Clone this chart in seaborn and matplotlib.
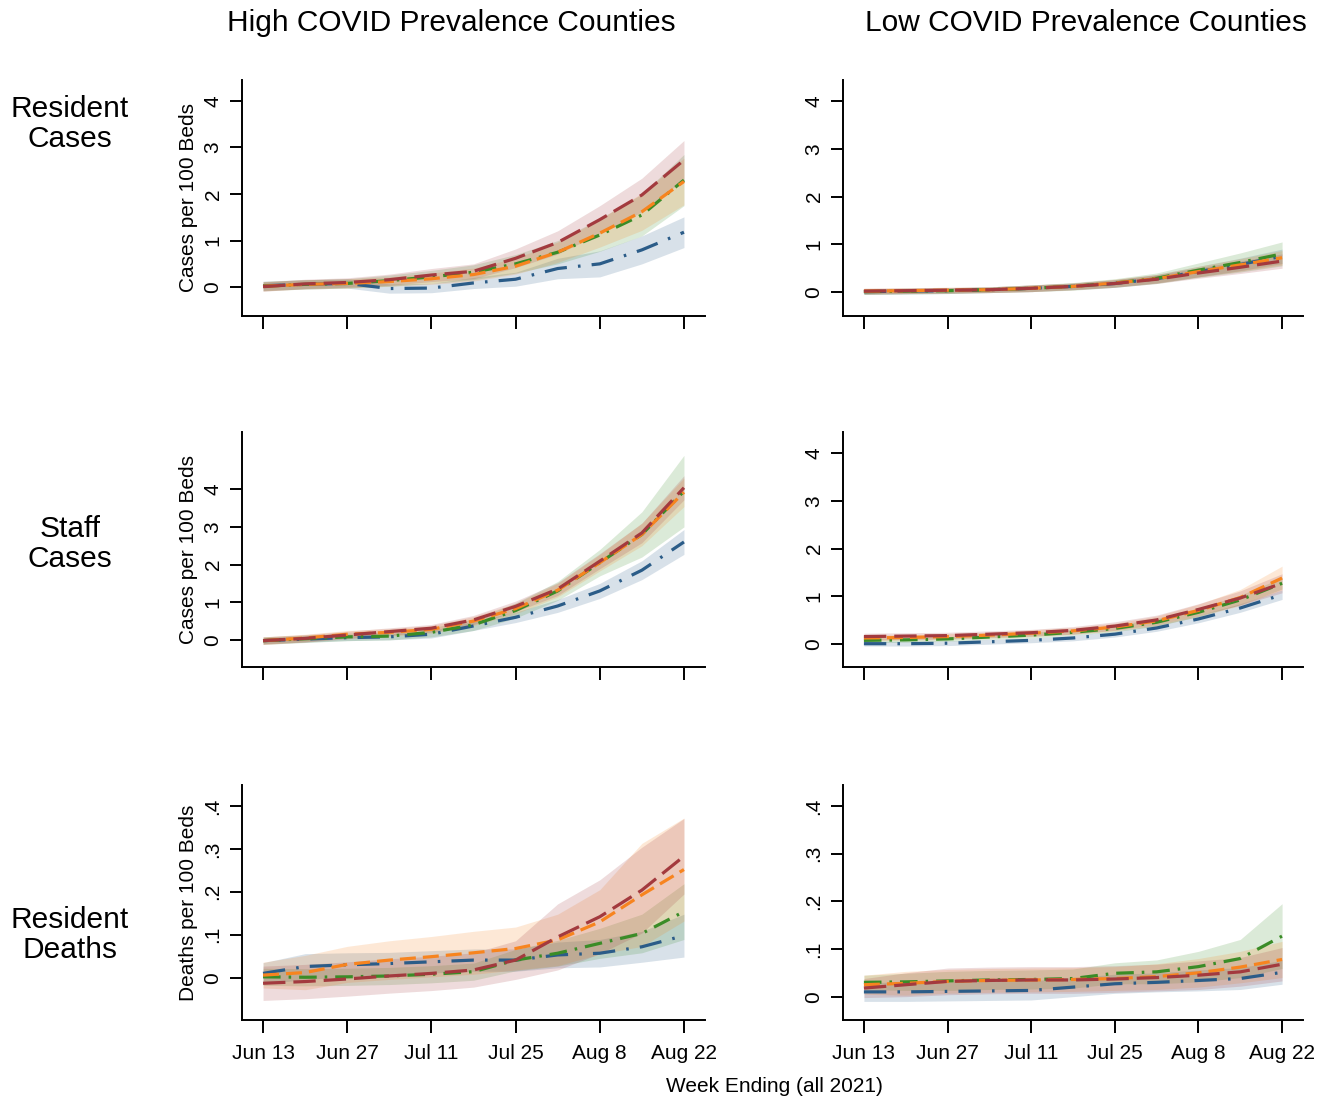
import matplotlib
matplotlib.use("Agg")
import matplotlib.pyplot as plt
import seaborn as sns
import pandas as pd

# weekly x values (week ending, 2021)
weeks = ["2021-06-13", "2021-06-20", "2021-06-27", "2021-07-04", "2021-07-11", "2021-07-18",
         "2021-07-25", "2021-08-01", "2021-08-08", "2021-08-15", "2021-08-22"]
tick_weeks = ["2021-06-13", "2021-06-27", "2021-07-11", "2021-07-25", "2021-08-08", "2021-08-22"]
tick_labels = ["Jun 13", "Jun 27", "Jul 11", "Jul 25", "Aug 8", "Aug 22"]
groups = ["Group 1", "Group 2", "Group 3", "Group 4"]

# --- High prevalence, resident cases
hi_res_g1 = [0.03, 0.06, 0.08, -0.03, -0.02, 0.09, 0.17, 0.40, 0.50, 0.80, 1.18]
hi_res_g2 = [0.02, 0.06, 0.08, 0.14, 0.22, 0.32, 0.50, 0.75, 1.12, 1.55, 2.30]
hi_res_g3 = [0.02, 0.06, 0.08, 0.12, 0.18, 0.27, 0.45, 0.75, 1.16, 1.62, 2.27]
hi_res_g4 = [0.01, 0.07, 0.10, 0.16, 0.26, 0.34, 0.62, 0.96, 1.45, 1.98, 2.73]
hi_res_g1_ci = [0.10, 0.10, 0.10, 0.10, 0.10, 0.12, 0.15, 0.22, 0.28, 0.30, 0.33]
hi_res_g2_ci = [0.10, 0.10, 0.10, 0.12, 0.14, 0.16, 0.20, 0.25, 0.35, 0.45, 0.55]
hi_res_g3_ci = [0.10, 0.10, 0.10, 0.10, 0.12, 0.14, 0.17, 0.22, 0.30, 0.40, 0.50]
hi_res_g4_ci = [0.10, 0.10, 0.10, 0.12, 0.14, 0.16, 0.20, 0.25, 0.30, 0.36, 0.42]

# --- Low prevalence, resident cases
lo_res_g1 = [0.01, 0.02, 0.03, 0.05, 0.08, 0.12, 0.18, 0.28, 0.43, 0.58, 0.75]
lo_res_g2 = [0.01, 0.02, 0.03, 0.05, 0.08, 0.12, 0.19, 0.29, 0.46, 0.62, 0.80]
lo_res_g3 = [0.02, 0.03, 0.04, 0.05, 0.08, 0.12, 0.19, 0.28, 0.43, 0.57, 0.72]
lo_res_g4 = [0.02, 0.03, 0.04, 0.05, 0.08, 0.12, 0.18, 0.27, 0.40, 0.52, 0.65]
lo_res_g1_ci = [0.06, 0.06, 0.06, 0.06, 0.07, 0.07, 0.08, 0.09, 0.11, 0.13, 0.15]
lo_res_g2_ci = [0.06, 0.06, 0.06, 0.06, 0.07, 0.08, 0.09, 0.11, 0.15, 0.20, 0.25]
lo_res_g3_ci = [0.06, 0.06, 0.06, 0.06, 0.07, 0.07, 0.08, 0.09, 0.11, 0.13, 0.15]
lo_res_g4_ci = [0.06, 0.06, 0.06, 0.06, 0.07, 0.07, 0.08, 0.09, 0.11, 0.13, 0.15]

# --- High prevalence, staff cases
hi_staff_g1 = [-0.02, 0.02, 0.06, 0.08, 0.15, 0.37, 0.60, 0.90, 1.30, 1.85, 2.60]
hi_staff_g2 = [-0.02, 0.03, 0.08, 0.10, 0.20, 0.40, 0.78, 1.30, 2.05, 2.80, 3.95]
hi_staff_g3 = [-0.02, 0.05, 0.15, 0.20, 0.28, 0.50, 0.83, 1.32, 2.05, 2.80, 3.92]
hi_staff_g4 = [-0.02, 0.04, 0.13, 0.22, 0.31, 0.53, 0.89, 1.35, 2.09, 2.84, 4.04]
hi_staff_g1_ci = [0.08, 0.08, 0.08, 0.08, 0.10, 0.12, 0.14, 0.17, 0.20, 0.25, 0.33]
hi_staff_g2_ci = [0.10, 0.10, 0.10, 0.10, 0.12, 0.15, 0.20, 0.25, 0.35, 0.60, 0.95]
hi_staff_g3_ci = [0.10, 0.10, 0.10, 0.10, 0.10, 0.12, 0.14, 0.18, 0.22, 0.30, 0.38]
hi_staff_g4_ci = [0.10, 0.10, 0.10, 0.10, 0.10, 0.12, 0.14, 0.17, 0.20, 0.26, 0.32]

# --- Low prevalence, staff cases
lo_staff_g1 = [0.00, 0.00, 0.01, 0.04, 0.07, 0.12, 0.20, 0.33, 0.52, 0.75, 1.03]
lo_staff_g2 = [0.07, 0.08, 0.10, 0.14, 0.18, 0.24, 0.32, 0.45, 0.66, 0.92, 1.27]
lo_staff_g3 = [0.12, 0.13, 0.15, 0.18, 0.22, 0.27, 0.35, 0.48, 0.70, 0.97, 1.38]
lo_staff_g4 = [0.15, 0.16, 0.17, 0.20, 0.23, 0.28, 0.37, 0.50, 0.72, 0.96, 1.27]
lo_staff_g1_ci = [0.05, 0.05, 0.05, 0.05, 0.05, 0.06, 0.06, 0.07, 0.08, 0.09, 0.10]
lo_staff_g2_ci = [0.05, 0.05, 0.05, 0.05, 0.06, 0.06, 0.07, 0.08, 0.09, 0.10, 0.12]
lo_staff_g3_ci = [0.06, 0.06, 0.06, 0.06, 0.07, 0.07, 0.08, 0.10, 0.13, 0.17, 0.25]
lo_staff_g4_ci = [0.07, 0.07, 0.07, 0.07, 0.07, 0.08, 0.09, 0.10, 0.12, 0.15, 0.20]

# --- High prevalence, resident deaths
hi_death_g1 = [0.010, 0.026, 0.030, 0.033, 0.037, 0.041, 0.041, 0.053, 0.057, 0.072, 0.098]
hi_death_g2 = [0.002, 0.001, 0.002, 0.004, 0.008, 0.014, 0.041, 0.057, 0.080, 0.103, 0.154]
hi_death_g3 = [0.006, 0.012, 0.031, 0.041, 0.049, 0.058, 0.068, 0.088, 0.130, 0.193, 0.252]
hi_death_g4 = [-0.013, -0.009, -0.003, 0.004, 0.010, 0.018, 0.041, 0.095, 0.142, 0.204, 0.283]
hi_death_g1_ci = [0.025, 0.030, 0.028, 0.026, 0.026, 0.026, 0.026, 0.030, 0.032, 0.036, 0.050]
hi_death_g2_ci = [0.020, 0.020, 0.020, 0.020, 0.020, 0.020, 0.025, 0.030, 0.035, 0.045, 0.065]
hi_death_g3_ci = [0.030, 0.040, 0.042, 0.045, 0.047, 0.050, 0.050, 0.060, 0.075, 0.120, 0.120]
hi_death_g4_ci = [0.040, 0.040, 0.040, 0.040, 0.040, 0.040, 0.045, 0.077, 0.086, 0.100, 0.088]

# --- Low prevalence, resident deaths
lo_death_g1 = [0.010, 0.010, 0.011, 0.012, 0.013, 0.020, 0.027, 0.030, 0.034, 0.038, 0.051]
lo_death_g2 = [0.030, 0.031, 0.033, 0.035, 0.036, 0.038, 0.049, 0.052, 0.063, 0.080, 0.127]
lo_death_g3 = [0.025, 0.028, 0.032, 0.034, 0.035, 0.036, 0.038, 0.042, 0.050, 0.062, 0.078]
lo_death_g4 = [0.018, 0.025, 0.032, 0.034, 0.035, 0.035, 0.037, 0.040, 0.045, 0.052, 0.068]
lo_death_g1_ci = [0.020, 0.020, 0.020, 0.020, 0.020, 0.020, 0.020, 0.020, 0.022, 0.023, 0.025]
lo_death_g2_ci = [0.015, 0.018, 0.020, 0.020, 0.020, 0.020, 0.022, 0.025, 0.032, 0.040, 0.068]
lo_death_g3_ci = [0.020, 0.025, 0.025, 0.025, 0.025, 0.025, 0.025, 0.027, 0.030, 0.033, 0.038]
lo_death_g4_ci = [0.020, 0.025, 0.028, 0.028, 0.028, 0.028, 0.028, 0.028, 0.030, 0.030, 0.035]

colors = ["#2b5c88", "#3a8c27", "#f7841f", "#a33a3e"]
dash_styles = [(0, (7, 3.5, 0.8, 3.5)), (0, (5.5, 2.5, 0.8, 2.5)), (0, (5, 2.2)), (0, (7, 2.5))]

sns.set_theme(style="ticks")
plt.rcParams["font.family"] = ["Liberation Sans", "DejaVu Sans"]
plt.rcParams.update({"text.color": "black", "axes.labelcolor": "black",
                     "xtick.color": "black", "ytick.color": "black"})

fig = plt.figure(figsize=(13.3, 11.01), dpi=100)
W, H = 1330, 1101

def px_axes(left, right, top, bottom):
    return fig.add_axes([left / W, 1 - bottom / H, (right - left) / W, (bottom - top) / H])

panels = [
    # means, cis, axes box (px), ylim, yticks, ticklabels, ylabel, xticklabels?
    ([hi_res_g1, hi_res_g2, hi_res_g3, hi_res_g4],
     [hi_res_g1_ci, hi_res_g2_ci, hi_res_g3_ci, hi_res_g4_ci],
     (242, 705, 80, 316), (-0.62, 4.45), [0, 1, 2, 3, 4], None, "Cases per 100 Beds", False),
    ([lo_res_g1, lo_res_g2, lo_res_g3, lo_res_g4],
     [lo_res_g1_ci, lo_res_g2_ci, lo_res_g3_ci, lo_res_g4_ci],
     (843, 1303, 80, 316), (-0.5, 4.44), [0, 1, 2, 3, 4], None, None, False),
    ([hi_staff_g1, hi_staff_g2, hi_staff_g3, hi_staff_g4],
     [hi_staff_g1_ci, hi_staff_g2_ci, hi_staff_g3_ci, hi_staff_g4_ci],
     (242, 705, 432, 667), (-0.72, 5.52), [0, 1, 2, 3, 4], None, "Cases per 100 Beds", False),
    ([lo_staff_g1, lo_staff_g2, lo_staff_g3, lo_staff_g4],
     [lo_staff_g1_ci, lo_staff_g2_ci, lo_staff_g3_ci, lo_staff_g4_ci],
     (843, 1303, 432, 667), (-0.49, 4.45), [0, 1, 2, 3, 4], None, None, False),
    ([hi_death_g1, hi_death_g2, hi_death_g3, hi_death_g4],
     [hi_death_g1_ci, hi_death_g2_ci, hi_death_g3_ci, hi_death_g4_ci],
     (242, 705, 785, 1020), (-0.0986, 0.449), [0, .1, .2, .3, .4], ["0", ".1", ".2", ".3", ".4"],
     "Deaths per 100 Beds", True),
    ([lo_death_g1, lo_death_g2, lo_death_g3, lo_death_g4],
     [lo_death_g1_ci, lo_death_g2_ci, lo_death_g3_ci, lo_death_g4_ci],
     (843, 1303, 785, 1020), (-0.049, 0.444), [0, .1, .2, .3, .4], ["0", ".1", ".2", ".3", ".4"],
     None, True),
]

dates = pd.to_datetime(weeks)
for means, cis, box, ylim, yticks, ylabs, ylabel, show_x in panels:
    ax = px_axes(*box)
    for g, vals, ci, c, ls in zip(groups, means, cis, colors, dash_styles):
        df = pd.DataFrame({"week": dates, "value": vals, "ci": ci})
        ax.fill_between(df["week"], df["value"] - df["ci"], df["value"] + df["ci"],
                        color=c, alpha=0.18, lw=0)
        sns.lineplot(data=df, x="week", y="value", color=c, lw=2.3, linestyle=ls, ax=ax)
    ax.set_xlim(dates[0] - pd.Timedelta(days=3.5), dates[-1] + pd.Timedelta(days=3.5))
    ax.set_ylim(*ylim)
    ax.set_xticks(pd.to_datetime(tick_weeks))
    if show_x:
        ax.set_xticklabels(tick_labels, fontsize=15)
    else:
        ax.set_xticklabels([])
    ax.set_yticks(yticks)
    ax.set_yticklabels(ylabs if ylabs else [str(t) for t in yticks], fontsize=15,
                       rotation=90, va="center")
    ax.set_xlabel("")
    ax.set_ylabel(ylabel if ylabel else "", fontsize=15, labelpad=4)
    for s in ["top", "right"]:
        ax.spines[s].set_visible(False)
    for s in ["left", "bottom"]:
        ax.spines[s].set_linewidth(1.4)
        ax.spines[s].set_color("black")
    ax.tick_params(axis="both", length=9, width=1.4, color="black")
    ax.tick_params(axis="x", pad=8)
    ax.tick_params(axis="y", pad=5)

fs = 21.5
fig.text(451 / W, 1 - 23 / H, "High COVID Prevalence Counties", ha="center", va="center", fontsize=fs)
fig.text(1086 / W, 1 - 23 / H, "Low COVID Prevalence Counties", ha="center", va="center", fontsize=fs)
fig.text(70 / W, 1 - 124 / H, "Resident\nCases", ha="center", va="center", fontsize=fs, linespacing=1.05)
fig.text(70 / W, 1 - 544 / H, "Staff\nCases", ha="center", va="center", fontsize=fs, linespacing=1.05)
fig.text(70 / W, 1 - 935 / H, "Resident\nDeaths", ha="center", va="center", fontsize=fs, linespacing=1.05)
fig.text(774 / W, 1 - 1086 / H, "Week Ending (all 2021)", ha="center", va="center", fontsize=15)

fig.savefig("out.png", dpi=100)
